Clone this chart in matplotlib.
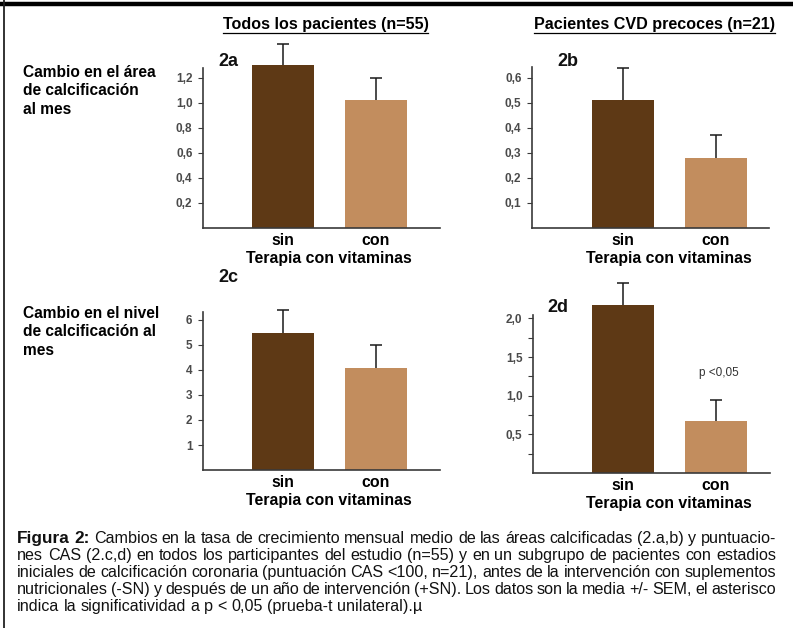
import matplotlib
matplotlib.use("Agg")
import matplotlib.pyplot as plt
from matplotlib.lines import Line2D
from matplotlib.ticker import FixedLocator, FuncFormatter

plt.rcParams['font.family'] = ['Liberation Sans', 'DejaVu Sans']

# ---------------- data ----------------
groups = ["sin", "con"]
area_all = [1.30, 1.02]
area_all_sem = [0.17, 0.18]
area_early = [0.51, 0.28]
area_early_sem = [0.13, 0.09]
score_all = [5.5, 4.1]
score_all_sem = [0.9, 0.9]
score_early = [2.17, 0.67]
score_early_sem = [0.29, 0.27]

ticks_a = [0.2, 0.4, 0.6, 0.8, 1.0, 1.2]
ticks_b = [0.1, 0.2, 0.3, 0.4, 0.5, 0.6]
ticks_c = [1, 2, 3, 4, 5, 6]
ticks_d = [0.5, 1.0, 1.5, 2.0]
minor_d = [0.25, 0.75, 1.25, 1.75]

col_titles = ["Todos los pacientes (n=55)", "Pacientes CVD precoces (n=21)"]
row_labels = [["Cambio en el área", "de calcificación", "al mes"],
              ["Cambio en el nivel", "de calcificación al", "mes"]]
panel_names = ["2a", "2b", "2c", "2d"]
xlabel = "Terapia con vitaminas"
pnote = "p <0,05"

caption_lines = [
    "Figura 2: Cambios en la tasa de crecimiento mensual medio de las áreas calcificadas (2.a,b) y puntuacio-",
    "nes CAS (2.c,d) en todos los participantes del estudio (n=55) y en un subgrupo de pacientes con estadios",
    "iniciales de calcificación coronaria (puntuación CAS <100, n=21), antes de la intervención con suplementos",
    "nutricionales (-SN) y después de un año de intervención (+SN). Los datos son la media +/- SEM, el asterisco",
    "indica la significatividad a p < 0,05 (prueba-t unilateral).µ",
]

colors = ["#5E3915", "#C28D5E"]

# ---------------- layout (pixels) ----------------
W, H = 793, 628
fig = plt.figure(figsize=(W / 100, H / 100), dpi=100)
fig.patch.set_facecolor("white")


def fx(x):
    return x / W


def fy(y):
    return 1 - y / H


# left, right, top, zero-line y, px per unit, bar centre px, spine top px, panel label
layout = [
    dict(l=203, r=440, t=38, y0=228, s=125.0, c=(282.5, 376), st=68, lab=(218, 66)),
    dict(l=532, r=769, t=38, y0=228, s=250.0, c=(622.5, 716), st=67, lab=(557, 66)),
    dict(l=203, r=440, t=280, y0=470, s=25.0, c=(282.5, 376), st=312, lab=(218, 282)),
    dict(l=533, r=770, t=270, y0=473, s=77.3, c=(622.5, 716), st=315, lab=(547, 312)),
]
values = [area_all, area_early, score_all, score_early]
sems = [area_all_sem, area_early_sem, score_all_sem, score_early_sem]
ticks = [ticks_a, ticks_b, ticks_c, ticks_d]
decimals = [1, 1, 0, 1]

spine_col = "#3a3a3a"
for i, L in enumerate(layout):
    ax = fig.add_axes([fx(L['l']), fy(L['y0']), (L['r'] - L['l']) / W, (L['y0'] - L['t']) / H])
    unit = L['c'][1] - L['c'][0]
    ax.set_xlim(-(L['c'][0] - L['l']) / unit, 1 + (L['r'] - L['c'][1]) / unit)
    ax.set_ylim(0, (L['y0'] - L['t']) / L['s'])
    x = [0, 1]
    ax.bar(x, values[i], width=62 / unit, color=colors, zorder=2, clip_on=False)
    eb = ax.errorbar(x, values[i], yerr=[[0, 0], sems[i]], fmt='none', ecolor='#1a1a1a',
                     elinewidth=1.1, capsize=4.3, capthick=1.1, zorder=3, clip_on=False)
    eb[1][0].set_visible(False)
    for sp in ['top', 'right']:
        ax.spines[sp].set_visible(False)
    for sp in ['left', 'bottom']:
        ax.spines[sp].set_color(spine_col)
        ax.spines[sp].set_linewidth(1.2)
    ax.spines['left'].set_bounds(0, (L['y0'] - L['st']) / L['s'])
    ax.set_xticks([])
    d = decimals[i]
    ax.yaxis.set_major_locator(FixedLocator(ticks[i]))
    ax.yaxis.set_major_formatter(FuncFormatter(
        lambda v, p, d=d: (f"{v:.{d}f}").replace('.', ',')))
    ax.tick_params(axis='y', length=3.6, width=0.8, color=spine_col, pad=4,
                   labelsize=8.5, labelcolor='#4a4a4a')
    for lab in ax.get_yticklabels():
        lab.set_fontweight('bold')
    if i == 3:
        ax.yaxis.set_minor_locator(FixedLocator(minor_d))
        ax.tick_params(axis='y', which='minor', length=3.6, width=0.8, color=spine_col)
    ax.patch.set_alpha(0)

    # category labels and axis title
    for j, g in enumerate(groups):
        fig.text(fx(L['c'][j]), fy(L['y0'] + 17), g, ha='center', va='baseline',
                 fontsize=11.4, fontweight='bold')
    fig.text(fx((L['c'][0] + L['c'][1]) / 2), fy(L['y0'] + 35), xlabel, ha='center',
             va='baseline', fontsize=11.4, fontweight='bold')
    fig.text(fx(L['lab'][0]), fy(L['lab'][1]), panel_names[i], ha='left', va='baseline',
             fontsize=13, fontweight='bold', color='#111')

# p-value note in panel 2d
fig.text(fx(719), fy(376), pnote, ha='center', va='baseline', fontsize=8.5, color='#333')

# row labels
for lines, base in zip(row_labels, [77, 318]):
    for k, s in enumerate(lines):
        fig.text(fx(23), fy(base + 18.3 * k), s, ha='left', va='baseline', fontsize=11.2,
                 fontweight='bold')

# column titles with underline
renderer = fig.canvas.get_renderer()
for title, cx in zip(col_titles, [325.5, 654]):
    t = fig.text(fx(cx), fy(29), title, ha='center', va='baseline', fontsize=11.6,
                 fontweight='bold')
    bb = t.get_window_extent(renderer)
    fig.add_artist(Line2D([bb.x0 / W, bb.x1 / W], [fy(32.5), fy(32.5)], color='black',
                          lw=0.9, transform=fig.transFigure))

# caption (justified)
cap_left, cap_right = 17, 776
baselines = [543, 560, 577, 594, 611]
cap_fs = 11.6
for li, line in enumerate(caption_lines):
    words = line.split(' ')
    texts = []
    widths = []
    for wi, w in enumerate(words):
        bold = (li == 0 and wi < 2)
        t = fig.text(0, fy(baselines[li]), w, ha='left', va='baseline',
                     fontsize=12.4 if bold else cap_fs, fontweight='bold' if bold else 'normal',
                     color='#111')
        texts.append(t)
        widths.append(t.get_window_extent(renderer).width)
    total = sum(widths)
    if li < len(caption_lines) - 1:
        gap = (cap_right - cap_left - total) / (len(words) - 1)
    else:
        gap = 0.278 * cap_fs * 100 / 72
    xpos = cap_left
    for t, wdt in zip(texts, widths):
        t.set_x(fx(xpos))
        xpos += wdt + gap

# figure borders
fig.add_artist(Line2D([0, 1], [fy(3.5), fy(3.5)], color='black', lw=3.2,
                      transform=fig.transFigure))
fig.add_artist(Line2D([fx(4), fx(4)], [0, 1], color='#222', lw=1.3,
                      transform=fig.transFigure))

fig.savefig("out.png", dpi=100, facecolor='white')
